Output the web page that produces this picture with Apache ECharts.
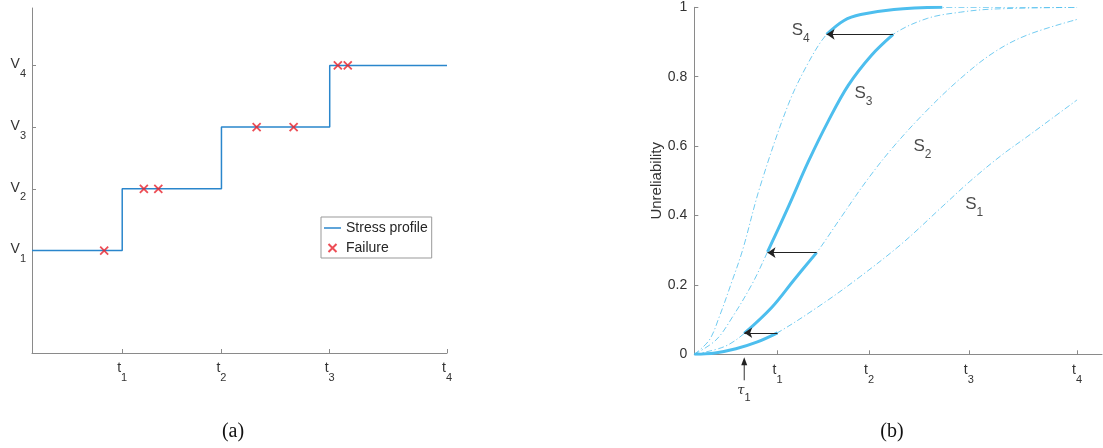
<!DOCTYPE html>
<html>
<head>
<meta charset="utf-8">
<script src="https://cdn.jsdelivr.net/npm/echarts@6.0.0/dist/echarts.min.js"></script>
<style>
  html, body { margin: 0; padding: 0; background: #fff; }
  #chart { width: 1103px; height: 448px; }
</style>
</head>
<body>
<div id="chart"></div>
<script>
// ---- data ----
// (a) step-stress profile
const tTicks = [1.0, 2.1, 3.3, 4.6];
const tNames = ['1', '2', '3', '4'];
const stressT = [0, 1.0, 2.1, 3.3, 4.6];
const stressV = [1, 2, 3, 4, 4];
const vTicks = [1, 2, 3, 4];
const failT = [0.80, 1.24, 1.40, 2.49, 2.90, 3.39, 3.50];
const failV = [1, 2, 2, 3, 3, 4, 4];

// (b) unreliability curves at stress levels S1..S4  [t, F]
const s1 = [[0, 0], [0.25, 0.004], [0.5, 0.016], [0.75, 0.035], [1.0, 0.062], [1.55, 0.147], [2.0, 0.225],
  [2.5, 0.32], [3.0, 0.43], [3.32, 0.50], [3.7, 0.575], [4.0, 0.627], [4.3, 0.68], [4.6, 0.733]];
const s2 = [[0, 0], [0.36, 0.022], [0.6, 0.06], [0.93, 0.135], [1.2, 0.215], [1.47, 0.293], [1.75, 0.39],
  [2.07, 0.50], [2.4, 0.6], [2.8, 0.704], [3.2, 0.795], [3.6, 0.87], [4.0, 0.92], [4.6, 0.965]];
const s3 = [[0, 0], [0.26, 0.041], [0.46, 0.108], [0.7, 0.205], [0.88, 0.295], [1.13, 0.425], [1.37, 0.555],
  [1.61, 0.672], [1.85, 0.775], [2.13, 0.862], [2.39, 0.922], [2.8, 0.968], [3.2, 0.986], [3.6, 0.995], [4.6, 1.0]];
const s4 = [[0, 0], [0.18, 0.041], [0.3, 0.108], [0.445, 0.205], [0.58, 0.30], [0.79, 0.483], [1.13, 0.72],
  [1.37, 0.84], [1.59, 0.922], [1.8, 0.962], [2.0, 0.979], [2.4, 0.994], [2.98, 1.0], [4.6, 1.0]];
const curves = [s1, s2, s3, s4];
// cumulative exposure path: part of each curve that is travelled
const pathStart = [0, 0.6, 0.88, 1.59];
const pathEnd = [1.0, 1.47, 2.39, 2.98];
const tau1 = 0.6;
// label anchors (left edge of the "S")
const sLabelPos = [[3.256, 0.44], [2.634, 0.608], [1.925, 0.759], [1.17, 0.941]];

// ---- styles ----
const FONT = '"Liberation Sans", Arial, sans-serif';
const AXIS_GRAY = '#8a8a8a';
const TXT = '#333';
const STEP_BLUE = '#2a86cc';
const CYAN = '#4dbeee';

const subRich = {
  m: { fontSize: 14, lineHeight: 16, verticalAlign: 'top', color: TXT, fontFamily: FONT },
  s: { fontSize: 11, lineHeight: 11, verticalAlign: 'top', padding: [11, 0, 0, 0], color: TXT, fontFamily: FONT }
};
function tLabel(v) {
  const i = tTicks.findIndex((t) => Math.abs(t - v) < 1e-6);
  return i < 0 ? '' : '{m|t}{s|' + tNames[i] + '}';
}

function axisBase() {
  return {
    type: 'value',
    axisLine: { show: true, onZero: false, lineStyle: { color: AXIS_GRAY, width: 1 } },
    axisTick: { show: true, inside: true, length: 4, lineStyle: { color: AXIS_GRAY } },
    splitLine: { show: false },
    axisLabel: { color: TXT, fontFamily: FONT, fontSize: 14 }
  };
}

const xA = axisBase();
Object.assign(xA, { gridIndex: 0, min: 0, max: 4.6 });
xA.axisTick = Object.assign({}, xA.axisTick, { customValues: tTicks });
xA.axisLabel = { customValues: tTicks, formatter: tLabel, rich: subRich, margin: 8 };

const yA = axisBase();
Object.assign(yA, { gridIndex: 0, min: -0.66, max: 4.93 });
yA.axisTick = Object.assign({}, yA.axisTick, { customValues: vTicks });
yA.axisLabel = { customValues: vTicks, formatter: (v) => '{m|V}{s|' + v + '}', rich: subRich, margin: 6 };

const xB = axisBase();
Object.assign(xB, { gridIndex: 1, min: 0, max: 4.9 });
xB.axisTick = Object.assign({}, xB.axisTick, { customValues: tTicks });
xB.axisLabel = { customValues: tTicks, formatter: tLabel, rich: subRich, margin: 9 };

const yB = axisBase();
Object.assign(yB, {
  gridIndex: 1, min: 0, max: 1, interval: 0.2,
  name: 'Unreliability', nameLocation: 'middle', nameRotate: 90, nameGap: 29,
  nameTextStyle: { color: TXT, fontFamily: FONT, fontSize: 15 }
});
yB.axisLabel = Object.assign({}, yB.axisLabel, { margin: 7 });

const series = [
  {
    name: 'Stress profile', type: 'line', xAxisIndex: 0, yAxisIndex: 0,
    data: stressT.map((t, i) => [t, stressV[i]]), step: 'end',
    symbol: 'none', lineStyle: { color: STEP_BLUE, width: 1.5 }, itemStyle: { color: STEP_BLUE }, z: 2
  },
  {
    name: 'Failure', type: 'scatter', xAxisIndex: 0, yAxisIndex: 0,
    data: failT.map((t, i) => [t, failV[i]]),
    symbol: 'path://M0,0L10,10M10,0L0,10', symbolSize: 8,
    itemStyle: { color: '#e8202a', borderColor: '#e8202a', borderWidth: 1.8 }, z: 3
  }
];

curves.forEach((c, i) => {
  series.push({
    name: 'S' + (i + 1), type: 'line', xAxisIndex: 1, yAxisIndex: 1, data: c,
    smooth: 0.35, symbol: 'none',
    lineStyle: { color: CYAN, width: 0.8, type: [6, 2.5, 1.2, 2.5] }, z: 2
  });
});

curves.forEach((c, i) => {
  const seg = c.filter((p) => p[0] >= pathStart[i] - 1e-9 && p[0] <= pathEnd[i] + 1e-9);
  const s = {
    name: 'path' + (i + 1), type: 'line', xAxisIndex: 1, yAxisIndex: 1, data: seg,
    smooth: 0.35, symbol: 'none',
    lineStyle: { color: CYAN, width: 3 }, z: 3
  };
  if (i < 3) {
    const endF = c.find((p) => Math.abs(p[0] - pathEnd[i]) < 1e-9)[1];
    s.markLine = {
      silent: true, symbol: ['none', 'arrow'], symbolSize: 8,
      label: { show: false },
      lineStyle: { color: '#222', width: 1, type: 'solid' },
      itemStyle: { color: '#222' },
      data: [[{ coord: [pathEnd[i], endF] }, { coord: [pathStart[i + 1], endF] }]],
      z: 5
    };
  }
  series.push(s);
});

series.push({
  name: 'labels', type: 'scatter', xAxisIndex: 1, yAxisIndex: 1,
  data: sLabelPos, symbolSize: 0, silent: true,
  label: {
    show: true, position: 'right', distance: 0,
    formatter: (p) => '{m|S}{s|' + (p.dataIndex + 1) + '}',
    rich: {
      m: { fontSize: 17, lineHeight: 18, verticalAlign: 'top', padding: [3, 0, 3, 0], color: '#1a1a1a', fontFamily: FONT },
      s: { fontSize: 12, lineHeight: 12, verticalAlign: 'top', padding: [14, 0, 0, 0], color: '#1a1a1a', fontFamily: FONT }
    }
  }
});

const option = {
  animation: false,
  backgroundColor: '#fff',
  grid: [
    { left: 32, top: 8, width: 415, height: 345 },
    { left: 694.3, top: 7.3, width: 407.7, height: 347 }
  ],
  xAxis: [xA, xB],
  yAxis: [yA, yB],
  legend: {
    data: [
      { name: 'Stress profile', icon: 'path://M0,0L17,0L17,1.5L0,1.5Z' },
      { name: 'Failure' }
    ],
    orient: 'vertical', left: 321, top: 217,
    padding: [4, 4, 3, 3], itemGap: 6, itemWidth: 17, itemHeight: 8, itemTextGap: 3,
    borderColor: '#999', borderWidth: 1, backgroundColor: '#fff',
    textStyle: { fontFamily: FONT, fontSize: 14, color: '#262626' },
    selectedMode: false
  },
  series: series
};

const chart = echarts.init(document.getElementById('chart'), null, { renderer: 'canvas' });
chart.setOption(option);

// tau_1 marker under the time axis and panel captions
const p = chart.convertToPixel({ xAxisIndex: 1, yAxisIndex: 1 }, [tau1, 0]);
chart.setOption({
  graphic: [
    { type: 'line', shape: { x1: p[0], y1: p[1] + 26, x2: p[0], y2: p[1] + 8 }, style: { stroke: '#333', lineWidth: 1 } },
    { type: 'polygon', shape: { points: [[p[0], p[1] + 3], [p[0] - 3, p[1] + 11], [p[0] + 3, p[1] + 11]] }, style: { fill: '#222' } },
    {
      type: 'text', x: p[0] - 7, y: p[1] + 30,
      style: {
        text: '{m|τ}{s|1}',
        rich: {
          m: { fontSize: 13, fontStyle: 'italic', fontFamily: '"DejaVu Serif", serif', fill: '#333', lineHeight: 14, verticalAlign: 'top' },
          s: { fontSize: 11, fontFamily: FONT, fill: '#333', lineHeight: 11, verticalAlign: 'top', padding: [8, 0, 0, 0] }
        }
      }
    },
    { type: 'text', x: 233, y: 432, style: { text: '(a)', font: '20px "Liberation Serif", "Times New Roman", serif', fill: '#111', align: 'center', verticalAlign: 'middle' } },
    { type: 'text', x: 892, y: 432, style: { text: '(b)', font: '20px "Liberation Serif", "Times New Roman", serif', fill: '#111', align: 'center', verticalAlign: 'middle' } }
  ]
});
</script>
</body>
</html>
